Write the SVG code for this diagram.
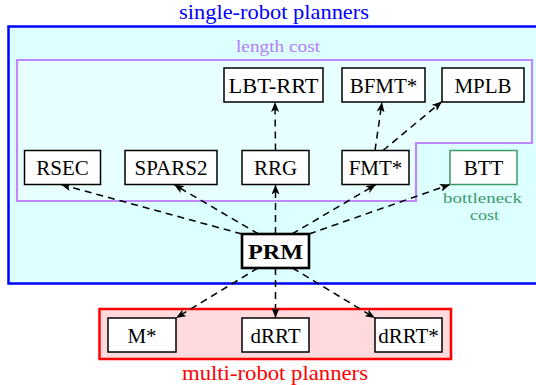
<svg xmlns="http://www.w3.org/2000/svg" width="536" height="385" viewBox="0 0 536 385">
<style>
text{font-family:"Liberation Serif","Times New Roman",serif;text-anchor:middle}
.node rect{fill:#ffffff;stroke:#000000;stroke-width:1.5}
.node text{font-size:21px;fill:#000000}
.conn{fill:none;stroke:#000000;stroke-width:1.5;stroke-dasharray:7 5}
</style>
<defs>
<marker id="arr" viewBox="0 0 10 8" markerWidth="10" markerHeight="8" refX="10" refY="4" orient="auto" markerUnits="userSpaceOnUse">
<path d="M0,0 L10,4 L0,8 L2.5,4 z" fill="#000000"/>
</marker>
</defs>
<rect width="536" height="385" fill="#ffffff"/>
<g id="single-robot">
<rect x="8.5" y="26.5" width="540" height="257" fill="#dcffff" stroke="#0000ff" stroke-width="2.5"/>
<text x="274" y="19" font-size="21" fill="#0000ff" textLength="190" lengthAdjust="spacingAndGlyphs">single-robot planners</text>
</g>
<g id="length-cost">
<path d="M17,60 L532,60 L532,143 L416,143 L416,201 L17,201 Z" fill="#e8ffff" stroke="#bf88ff" stroke-width="2.2"/>
<text x="278" y="52" font-size="17" fill="#b57cff" textLength="84" lengthAdjust="spacingAndGlyphs">length cost</text>
</g>
<g id="multi-robot">
<rect x="99.5" y="309" width="351.5" height="50" fill="#ffdadd" stroke="#ff0000" stroke-width="2.5"/>
<text x="275" y="380" font-size="21" fill="#ff0000" textLength="186" lengthAdjust="spacingAndGlyphs">multi-robot planners</text>
</g>
<g id="bottleneck-label">
<text x="482.5" y="203" font-size="15" fill="#3d9a6a" textLength="79" lengthAdjust="spacingAndGlyphs">bottleneck</text>
<text x="484.5" y="220" font-size="15" fill="#3d9a6a" textLength="29" lengthAdjust="spacingAndGlyphs">cost</text>
</g>
<g id="connectors">
<path class="conn" d="M242,234 L61,184.5" marker-end="url(#arr)"/>
<path class="conn" d="M258.5,234 L174,184.5" marker-end="url(#arr)"/>
<path class="conn" d="M275.5,234 L275.5,184.5" marker-end="url(#arr)"/>
<path class="conn" d="M292,234 L376,184.5" marker-end="url(#arr)"/>
<path class="conn" d="M309,234 L450,184.5" marker-end="url(#arr)"/>
<path class="conn" d="M275.5,150.5 L275,102" marker-end="url(#arr)"/>
<path class="conn" d="M375,150.5 L382,102" marker-end="url(#arr)"/>
<path class="conn" d="M383,150.5 L442,101.5" marker-end="url(#arr)"/>
<path class="conn" d="M258,268 L176,318" marker-end="url(#arr)"/>
<path class="conn" d="M275.5,268 L275.5,318" marker-end="url(#arr)"/>
<path class="conn" d="M292.5,268 L375,318" marker-end="url(#arr)"/>
</g>
<g id="LBT-RRT" class="node"><rect x="224" y="68" width="99" height="34"/><text x="273.5" y="92.5" textLength="90" lengthAdjust="spacingAndGlyphs">LBT-RRT</text></g>
<g id="BFMT" class="node"><rect x="342" y="68" width="83" height="34"/><text x="383.5" y="92.5">BFMT*</text></g>
<g id="MPLB" class="node"><rect x="442" y="68" width="82" height="34"/><text x="483" y="92.5">MPLB</text></g>
<g id="RSEC" class="node"><rect x="24.5" y="150.5" width="76" height="34"/><text x="62.5" y="175">RSEC</text></g>
<g id="SPARS2" class="node"><rect x="125" y="150.5" width="92" height="34"/><text x="171" y="175">SPARS2</text></g>
<g id="RRG" class="node"><rect x="242" y="150.5" width="67" height="34"/><text x="275.5" y="175">RRG</text></g>
<g id="FMT" class="node"><rect x="342" y="150.5" width="67" height="34"/><text x="375.5" y="175">FMT*</text></g>
<g id="BTT" class="node"><rect x="450" y="150.5" width="67" height="34" style="stroke:#3d9a6a"/><text x="483.5" y="175">BTT</text></g>
<g id="PRM" class="node"><rect x="242" y="234" width="67" height="34" style="stroke-width:2.6"/><text x="275.5" y="258.5" font-weight="bold" textLength="55" lengthAdjust="spacingAndGlyphs">PRM</text></g>
<g id="Mstar" class="node"><rect x="108" y="318" width="68" height="34"/><text x="142" y="342.5">M*</text></g>
<g id="dRRT" class="node"><rect x="242" y="318" width="67" height="34"/><text x="275.5" y="342.5">dRRT</text></g>
<g id="dRRTstar" class="node"><rect x="375" y="318" width="67" height="34"/><text x="408.5" y="342.5">dRRT*</text></g>
</svg>
